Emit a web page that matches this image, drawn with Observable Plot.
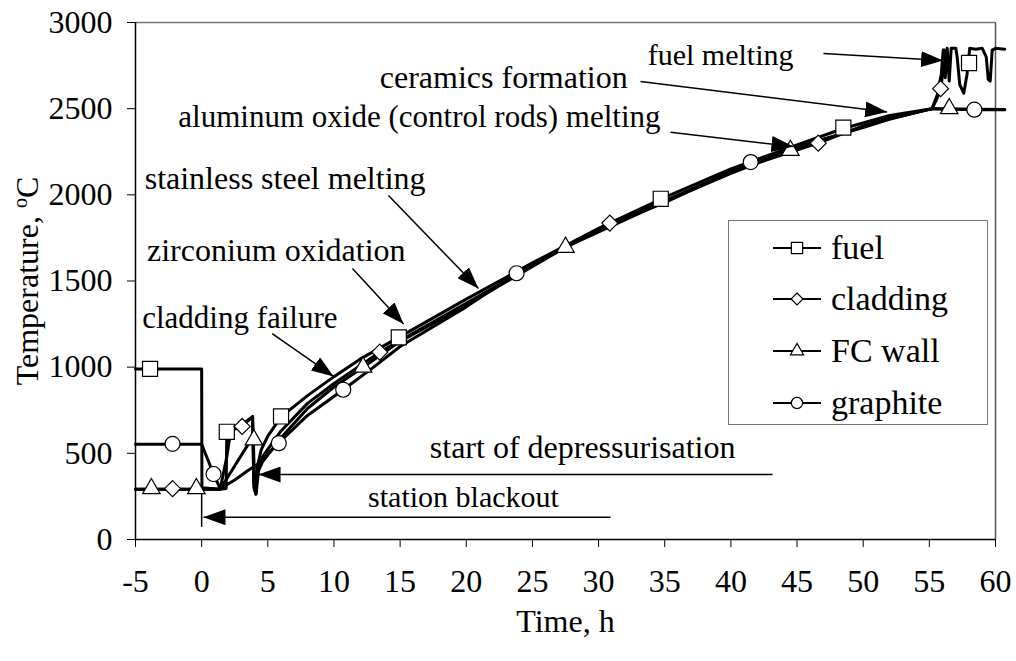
<!DOCTYPE html>
<html><head><meta charset="utf-8">
<script src="https://cdn.jsdelivr.net/npm/d3@7"></script>
<script src="https://cdn.jsdelivr.net/npm/@observablehq/plot@0.6"></script>
<style>
body{margin:0;background:#fff;font-family:"Liberation Serif","Times New Roman",serif;}
#wrap{position:relative;width:1016px;height:661px;overflow:hidden;}
#legend{position:absolute;left:728px;top:220px;width:258px;height:203px;border:1.5px solid #777;background:#fff;}
.row{position:absolute;left:0;height:44px;display:flex;align-items:center;}
.row span{font-size:34px;line-height:44px;color:#000;}
</style></head><body><div id="wrap"></div>
<script>
// ---- axis ticks ----
const xTicks = [-5, 0, 5, 10, 15, 20, 25, 30, 35, 40, 45, 50, 55, 60];
const yTicks = [0, 500, 1000, 1500, 2000, 2500, 3000];

// ---- series (time h, temperature °C) ----
const fuelTime = [-5, 0, 0.02, 1.4, 1.85, 1.9, 2.5, 3.0, 3.5, 3.85, 3.95, 4.1, 4.2, 4.5, 5, 6, 8, 10, 12, 14.9, 20, 25, 30, 35, 40, 45, 48.5, 52, 55.2, 55.6, 55.9, 56.05, 56.2, 56.35, 56.5, 56.65, 57.0, 57.1, 57.3, 57.6, 57.85, 58.05, 58.5, 59.0, 59.3, 59.45, 59.6, 59.75, 60.0, 60.7];
const fuelTemp = [990, 990, 300, 292, 296, 620, 645, 668, 692, 715, 300, 262, 420, 520, 600, 712, 835, 945, 1048, 1173, 1395, 1605, 1805, 1985, 2150, 2290, 2385, 2460, 2500, 2580, 2700, 2840, 2680, 2850, 2660, 2850, 2850, 2800, 2640, 2590, 2700, 2850, 2845, 2850, 2800, 2670, 2660, 2840, 2850, 2845];

const cladTime = [-5, 0, 1.4, 1.9, 2.2, 3.06, 3.85, 3.95, 4.1, 4.2, 4.5, 6, 8, 10, 12, 13.46, 20, 25, 30.85, 35, 40, 46.6, 50, 52, 55.2, 55.5, 55.85, 56.05, 56.15];
const cladTemp = [292, 292, 292, 480, 630, 660, 712, 320, 265, 400, 470, 630, 790, 905, 1010, 1087, 1370, 1590, 1836, 1965, 2135, 2300, 2400, 2445, 2500, 2545, 2616, 2720, 2840];

const fcTime = [-5, 0, 1.4, 3.9, 4.0, 4.12, 4.3, 4.6, 6, 8, 10, 12.2, 15, 20, 27.5, 35, 40, 44.5, 50, 52, 55.2, 60.7];
const fcTemp = [292, 292, 292, 600, 300, 270, 400, 450, 590, 760, 885, 1000, 1150, 1360, 1696, 1960, 2125, 2258, 2395, 2440, 2500, 2495];

const graphTime = [-5, 0, 0.9, 1.4, 2.5, 3.5, 4.3, 5.8, 8, 10.7, 13, 15, 20, 23.8, 30, 35, 41.5, 45, 50, 52, 55.2, 58.4, 60.7];
const graphTemp = [552, 552, 380, 295, 345, 400, 440, 559, 720, 869, 1000, 1120, 1350, 1545, 1800, 1955, 2190, 2280, 2390, 2440, 2500, 2494, 2494];

// ---- marker points ----
const fuelMarkT = [-3.9, 1.9, 6.0, 14.9, 34.7, 48.5, 58.0];
const fuelMarkV = [990, 625, 714, 1173, 1977, 2390, 2765];
const cladMarkT = [-2.2, 3.06, 13.46, 30.85, 46.6, 55.85];
const cladMarkV = [295, 656, 1087, 1836, 2300, 2616];
const fcMarkT = [-3.8, -0.4, 3.95, 12.2, 27.5, 44.5, 56.5];
const fcMarkV = [295, 295, 578, 1000, 1696, 2258, 2500];
const graphMarkT = [-2.2, 0.9, 5.83, 10.7, 23.8, 41.5, 58.4];
const graphMarkV = [555, 380, 559, 869, 1545, 2190, 2494];

// ---- legend ----
const seriesNames = ["fuel", "cladding", "FC wall", "graphite"];

// ---- annotations (text anchored at its right end) ----
const noteText = ["fuel melting", "ceramics formation", "aluminum oxide (control rods) melting", "stainless steel melting", "zirconium oxidation", "cladding failure", "start of depressurisation", "station blackout"];
const noteX = [44.73, 32.2, 34.68, 16.92, 15.41, 10.27, 40.35, 27.0];
const noteY = [2808, 2680, 2449, 2095, 1677, 1282, 534, 244];
const noteSize = [30, 32, 31, 32, 32, 31, 32, 30];
const leadX1 = [47.0, 33.17, 35.44, 14.12, 11.4, 5.33, 43.15, 30.9];
const leadY1 = [2820, 2658, 2363, 1996, 1573, 1195, 377, 129];
const leadX2 = [56.04, 51.81, 44.73, 20.92, 15.26, 9.97, 4.3, 0.14];
const leadY2 = [2780, 2480, 2280, 1456, 1250, 946, 377, 129];

const pts = (t, v) => t.map((d, i) => ({t: d, v: v[i]}));
const notes = noteText.map((s, i) => ({s, x: noteX[i], y: noteY[i], fs: noteSize[i]}));
const leads = leadX1.map((d, i) => ({x1: d, y1: leadY1[i], x2: leadX2[i], y2: leadY2[i]}));

const symbols = ["square", "diamond2", "triangle", "circle"];
const radii = [8.5, 7.2, 6.5, 7.5];
const series = [
  {data: pts(fuelTime, fuelTemp), marks: pts(fuelMarkT, fuelMarkV)},
  {data: pts(cladTime, cladTemp), marks: pts(cladMarkT, cladMarkV)},
  {data: pts(fcTime, fcTemp), marks: pts(fcMarkT, fcMarkV)},
  {data: pts(graphTime, graphTemp), marks: pts(graphMarkT, graphMarkV)}
].map((s, i) => ({...s, name: seriesNames[i], symbol: symbols[i], r: radii[i]}));

const FS = 32;
const chart = Plot.plot({
  width: 1016, height: 661,
  marginLeft: 135, marginRight: 21, marginTop: 22, marginBottom: 122,
  style: {fontFamily: "'Liberation Serif', 'Times New Roman', serif", fontSize: FS + "px", color: "#000", background: "#fff"},
  x: {domain: [-5, 60]},
  y: {domain: [0, 3000]},
  marks: [
    Plot.ruleY([3000], {stroke: "#777", strokeWidth: 1.5}),
    Plot.ruleX([60], {stroke: "#555", strokeWidth: 1.5}),
    Plot.axisX({ticks: xTicks, tickFormat: d => String(d), tickSize: 8, tickPadding: 22, label: null, fontSize: FS}),
    Plot.axisY({ticks: yTicks, tickFormat: d => String(d), tickSize: 8, tickPadding: 15, label: null, fontSize: FS}),
    Plot.ruleX([-5], {stroke: "#000", strokeWidth: 1.5}),
    Plot.ruleY([0], {stroke: "#000", strokeWidth: 1.5}),
    Plot.ruleX([0], {y1: 70, y2: 292, stroke: "#000", strokeWidth: 1.5}),
    ...series.map(s => Plot.line(s.data, {x: "t", y: "v", stroke: "#000", strokeWidth: 3, strokeLinejoin: "round"})),
    ...series.map(s => Plot.dot(s.marks, {x: "t", y: "v", symbol: s.symbol, r: s.r, fill: "#fff", stroke: "#000", strokeWidth: 1.2})),
    Plot.link(leads, {x1: "x1", y1: "y1", x2: "x2", y2: "y2", stroke: "#000", strokeWidth: 1.5}),
    Plot.text(notes, {x: "x", y: "y", text: "s", textAnchor: "end", fontSize: "fs", fill: "#000"}),
    Plot.text(["Time, h"], {frameAnchor: "bottom", textAnchor: "middle", dy: 92, fontSize: FS, fill: "#000"}),
    Plot.text(["Temperature, °C"], {frameAnchor: "left", textAnchor: "middle", dx: -108, rotate: -90, fontSize: FS, fill: "#000"})
  ]
});

const svg = d3.select(chart);

// arrowheads
const defs = svg.append("defs");
defs.append("marker").attr("id", "ah").attr("viewBox", "0 0 22 16").attr("refX", 22).attr("refY", 8)
  .attr("markerWidth", 22).attr("markerHeight", 16).attr("markerUnits", "userSpaceOnUse").attr("orient", "auto")
  .append("path").attr("d", "M0,0L22,8L0,16Z").attr("fill", "#000");
svg.selectAll("g[aria-label=link] path").attr("marker-end", "url(#ah)");

// superscript o in y label
svg.selectAll("text").filter(function() { return this.textContent === "Temperature, °C"; })
  .each(function() {
    const el = d3.select(this);
    el.text("Temperature, ");
    el.append("tspan").attr("baseline-shift", "super").attr("font-size", "20px").text("o");
    el.append("tspan").text("C");
  });

const wrap = document.getElementById("wrap");
wrap.appendChild(chart);

// legend
const leg = d3.select(wrap).append("div").attr("id", "legend");
const rowTop = [5, 56, 108, 160];
const symMap = {square: d3.symbolSquare, diamond2: d3.symbolDiamond2, triangle: d3.symbolTriangle, circle: d3.symbolCircle};
series.forEach((s, i) => {
  const row = leg.append("div").attr("class", "row").style("top", rowTop[i] + "px");
  const sv = row.append("svg").attr("width", 100).attr("height", 44);
  sv.append("line").attr("x1", 44).attr("x2", 92).attr("y1", 22).attr("y2", 22).attr("stroke", "#000").attr("stroke-width", 2);
  const size = Math.PI * Math.pow(s.r * 0.75, 2);
  sv.append("path").attr("d", d3.symbol(symMap[s.symbol], size)()).attr("transform", "translate(68,22)")
    .attr("fill", "#fff").attr("stroke", "#000").attr("stroke-width", 1.2);
  row.append("span").style("margin-left", "2px").text(s.name);
});
</script></body></html>
